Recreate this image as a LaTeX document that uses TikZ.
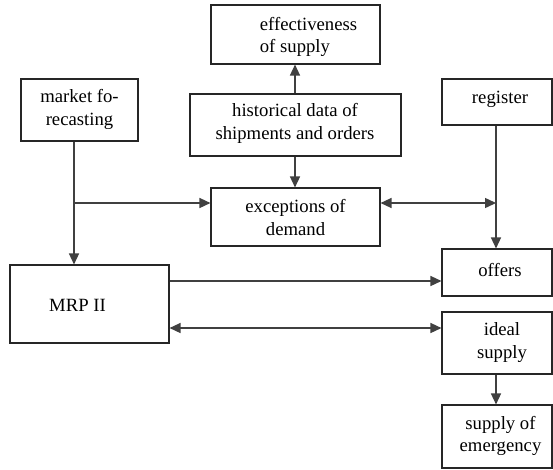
\documentclass[tikz,border=0pt]{standalone}
\usepackage{fontspec}
\setmainfont{Liberation Serif}
\usetikzlibrary{arrows.meta}
\begin{document}
\begin{tikzpicture}[x=1pt,y=-1pt,
  box/.style={draw=black!85,line width=1.1pt,rectangle,inner sep=0pt,fill=white},
  txt/.style={align=center,inner sep=0pt,font=\fontsize{18.7}{22.5}\selectfont,text=black},
  arr/.style={draw=black!75,line width=1.4pt,-{Triangle[length=11pt,width=10pt]}},
  darr/.style={draw=black!75,line width=1.4pt,{Triangle[length=11pt,width=10pt]}-{Triangle[length=11pt,width=10pt]}},
  ln/.style={draw=black!75,line width=1.4pt}]
\useasboundingbox (0,0) rectangle (553,469);
\fill[white] (0,0) rectangle (553,469);
% boxes
\node[box,minimum width=169pt,minimum height=59pt] (eff) at (295.5,34.5) {};
\node[txt,align=left] at (308.5,37) {effectiveness\\of supply};
\node[box,minimum width=117pt,minimum height=62pt] (mkt) at (79.5,110) {};
\node[txt] at (79.5,109.5) {market fo-\\recasting};
\node[box,minimum width=211pt,minimum height=62pt] (hist) at (295.5,125) {};
\node[txt] at (295,123.5) {historical data of\\shipments and orders};
\node[box,minimum width=169pt,minimum height=58pt] (exc) at (295.5,217) {};
\node[txt] at (295.5,217.5) {exceptions of\\demand};
\node[box,minimum width=110pt,minimum height=46pt] (reg) at (497,102) {};
\node[txt] at (500,99) {register};
\node[box,minimum width=110pt,minimum height=47pt] (off) at (497,272.5) {};
\node[txt] at (500,270) {offers};
\node[box,minimum width=110pt,minimum height=62pt] (ideal) at (497,343) {};
\node[txt] at (502,342.5) {ideal\\supply};
\node[box,minimum width=110pt,minimum height=63pt] (emer) at (497,436.5) {};
\node[txt] at (500.5,436) {supply of\\emergency};
\node[box,minimum width=159pt,minimum height=78pt] (mrp) at (89.5,304) {};
\node[txt] at (77.5,305) {MRP II};
% junctions
\coordinate (j1) at (74,203);
\coordinate (j2) at (496,203);
% connectors
\draw[arr] (hist.north -| 295,0) -- (eff.south -| 295,0);
\draw[arr] (hist.south -| 295,0) -- (exc.north -| 295,0);
\draw[arr] (mkt.south -| 74,0) -- (mrp.north -| 74,0);
\draw[arr] (j1) -- (j1 -| exc.west);
\draw[darr] (j2 |- 0,203) -- (exc.east |- 0,203);
\draw[arr] (reg.south -| 496,0) -- (off.north -| 496,0);
\draw[arr] (mrp.east |- 0,281) -- (off.west |- 0,281);
\draw[darr] (mrp.east |- 0,328) -- (ideal.west |- 0,328);
\draw[arr] (ideal.south -| 496,0) -- (emer.north -| 496,0);
\end{tikzpicture}
\end{document}
